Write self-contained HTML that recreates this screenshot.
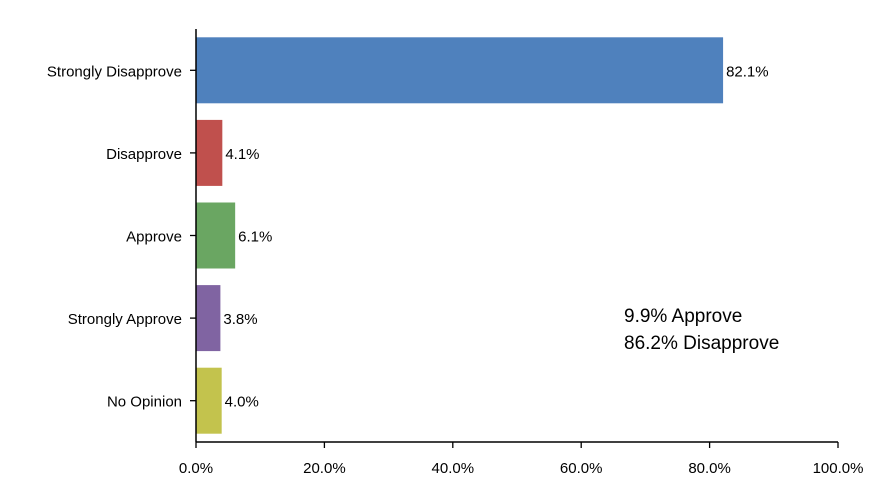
<!DOCTYPE html>
<html><head><meta charset="utf-8"><style>
body{margin:0;background:#fff;width:891px;height:489px;overflow:hidden}
svg text{font-family:"Liberation Sans",Arial,sans-serif;fill:#000}
</style></head><body>
<svg id="chart" width="891" height="489" xmlns="http://www.w3.org/2000/svg"></svg>
<script>
const categories=["Strongly Disapprove","Disapprove","Approve","Strongly Approve","No Opinion"];
const values=[82.1,4.1,6.1,3.8,4.0];
const valueLabels=["82.1%","4.1%","6.1%","3.8%","4.0%"];
const colors=["#4f81bd","#c0504d","#6aa662","#8064a2","#c3c34d"];
const xTicks=[0,20,40,60,80,100];
const xTickLabels=["0.0%","20.0%","40.0%","60.0%","80.0%","100.0%"];
const svg=document.getElementById('chart');
const NS="http://www.w3.org/2000/svg";
const x0=196,x1=838,yTop=29,yBot=442;
const band=(yBot-yTop)/categories.length,barH=66;
const xs=v=>x0+(v/100)*(x1-x0);
function mk(t,a){const e=document.createElementNS(NS,t);for(const k in a)e.setAttribute(k,a[k]);svg.appendChild(e);return e;}
categories.forEach((c,i)=>{
  const cy=yTop+band*(i+0.5);
  const r=mk('rect',{x:x0,y:cy-barH/2,width:xs(values[i])-x0,height:barH,fill:colors[i]});
  
  
  const vl=mk('text',{x:xs(values[i])+3,y:cy+6,'font-size':15});
  vl.textContent=valueLabels[i];
  
  
  const tk=mk('line',{x1:x0-6,x2:x0,y1:cy,y2:cy,stroke:'#000','stroke-width':1.3});
  
  
  const cl=mk('text',{x:x0-14,y:cy+6,'font-size':15,'text-anchor':'end'});
  cl.textContent=c;
  
  
});
xTicks.forEach((t,i)=>{
  const x=xs(t);
  const l=mk('line',{x1:x,x2:x,y1:yBot,y2:yBot+6,stroke:'#000','stroke-width':1.3});
  
  
  const tl=mk('text',{x:x,y:473,'font-size':15,'text-anchor':'middle'});
  tl.textContent=xTickLabels[i];
  
  
});
const ya=mk('line',{x1:x0,x2:x0,y1:yTop,y2:yBot,stroke:'#000','stroke-width':1.5});


const xa=mk('line',{x1:x0,x2:x1,y1:yBot,y2:yBot,stroke:'#000','stroke-width':1.5});


const a1=mk('text',{x:624,y:322,'font-size':19});
a1.textContent="9.9% Approve";


const a2=mk('text',{x:624,y:349,'font-size':19});
a2.textContent="86.2% Disapprove";


</script>
</body></html>
